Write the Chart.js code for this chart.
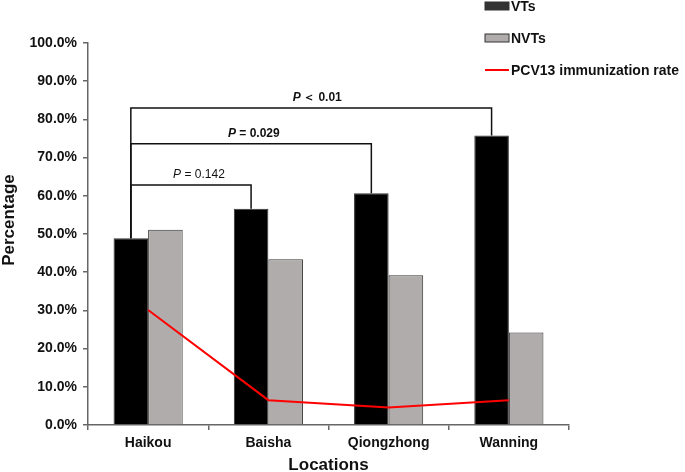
<!DOCTYPE html>
<html>
<head>
<meta charset="utf-8">
<script src="https://cdn.jsdelivr.net/npm/chart.js@4"></script>
<style>
  html, body { margin: 0; padding: 0; background: #fff; }
  #wrap { width: 685px; height: 472px; }
</style>
</head>
<body>
<div id="wrap"><canvas id="chart"></canvas></div>
<script>
const locations = ['Haikou', 'Baisha', 'Qiongzhong', 'Wanning'];
const vtValues = [48.9, 56.6, 60.7, 75.8];
const nvtValues = [51.1, 43.4, 39.2, 24.2];
const pcv13Rate = [30.1, 6.5, 4.6, 6.5];

// significance brackets: compare VT bar of Haikou with VT bar of another location
const bracketTargets = [1, 2, 3];
const bracketLevels = [62.8, 73.6, 83.0];
const bracketTexts = [' = 0.142', ' = 0.029', '\u2009＜ 0.01'];
const bracketBold = [false, true, true];

const FONT = '"Liberation Sans", Arial, sans-serif';

const bracketPlugin = {
  id: 'brackets',
  afterDatasetsDraw(chart) {
    const { ctx, chartArea } = chart;
    const y = chart.scales.y;
    const vtMeta = chart.getDatasetMeta(0);
    const x0 = vtMeta.data[0].x;
    const shifts = [8, 0, 6];
    ctx.save();
    ctx.strokeStyle = '#111';
    ctx.lineWidth = 1.5;
    bracketTargets.forEach((t, i) => {
      const x1 = vtMeta.data[t].x;
      const yl = y.getPixelForValue(bracketLevels[i]);
      ctx.beginPath();
      ctx.moveTo(x0, y.getPixelForValue(vtValues[0]));
      ctx.lineTo(x0, yl);
      ctx.lineTo(x1, yl);
      ctx.lineTo(x1, y.getPixelForValue(vtValues[t]));
      ctx.stroke();

      const weight = bracketBold[i] ? 'bold ' : '';
      ctx.font = 'italic ' + weight + '12px ' + FONT;
      const pw = ctx.measureText('P').width;
      ctx.font = weight + '12px ' + FONT;
      const rw = ctx.measureText(bracketTexts[i]).width;
      let cx = (x0 + x1) / 2 + shifts[i];
      if (i === 1) cx = x0 + 123;
      const sx = cx - (pw + rw) / 2;
      ctx.fillStyle = '#111';
      ctx.textBaseline = 'bottom';
      ctx.textAlign = 'left';
      ctx.font = 'italic ' + weight + '12px ' + FONT;
      ctx.fillText('P', sx, yl - 4);
      ctx.font = weight + '12px ' + FONT;
      ctx.fillText(bracketTexts[i], sx + pw, yl - 4);
    });

    // axis titles
    ctx.font = 'bold 17px ' + FONT;
    ctx.textAlign = 'center';
    ctx.textBaseline = 'middle';
    ctx.fillText('Locations', (chartArea.left + chartArea.right) / 2, 465);
    ctx.translate(9, 220);
    ctx.rotate(-Math.PI / 2);
    ctx.fillText('Percentage', 0, 0);
    ctx.restore();
  }
};

const legendPlugin = {
  id: 'sideLegend',
  afterDraw(chart) {
    const { ctx } = chart;
    const ds = chart.data.datasets;
    const bx = 485, tx = 511;
    const rows = [6, 38, 70];
    ctx.save();
    ctx.font = 'bold 14px ' + FONT;
    ctx.textBaseline = 'middle';
    ds.forEach((d, i) => {
      const yy = rows[i];
      if (d.type === 'line') {
        ctx.strokeStyle = d.borderColor;
        ctx.lineWidth = 2;
        ctx.beginPath();
        ctx.moveTo(bx, yy);
        ctx.lineTo(bx + 24, yy);
        ctx.stroke();
      } else {
        ctx.fillStyle = i === 0 ? '#333' : d.backgroundColor;
        ctx.fillRect(bx, yy - 4, 24, 8);
        ctx.strokeStyle = '#333';
        ctx.lineWidth = 1;
        ctx.strokeRect(bx, yy - 4, 24, 8);
      }
      ctx.fillStyle = '#111';
      ctx.fillText(d.label, tx, yy + 1);
    });
    ctx.restore();
  }
};

new Chart(document.getElementById('chart'), {
  type: 'bar',
  data: {
    labels: locations,
    datasets: [
      { label: 'VTs', data: vtValues, backgroundColor: '#000', borderColor: '#333', borderWidth: 1, order: 2 },
      { label: 'NVTs', data: nvtValues, backgroundColor: '#b0acab', borderColor: '#333', borderWidth: 1, order: 2 },
      { type: 'line', label: 'PCV13 immunization rate', data: pcv13Rate, borderColor: '#ff0000', borderWidth: 2,
        pointRadius: 0, tension: 0, fill: false, order: 1 }
    ]
  },
  options: {
    responsive: true,
    maintainAspectRatio: false,
    animation: false,
    layout: { padding: { top: 43, right: 116, left: 0, bottom: 0 } },
    datasets: { bar: { categoryPercentage: 0.575, barPercentage: 1.0 } },
    plugins: { legend: { display: false }, tooltip: { enabled: false } },
    scales: {
      x: {
        offset: true,
        grid: { display: true, offset: true, drawOnChartArea: false, tickLength: 5, color: '#666', lineWidth: 1.5 },
        border: { color: '#666', width: 1.5 },
        ticks: { color: '#111', font: { family: FONT, size: 14, weight: 'bold' }, padding: 5 },
        title: { display: false },
        afterFit(s) { s.height = 47; }
      },
      y: {
        min: 0, max: 100,
        ticks: { stepSize: 10, color: '#111', font: { family: FONT, size: 14, weight: 'bold' }, padding: 6,
          callback: v => v.toFixed(1) + '%' },
        grid: { display: true, drawOnChartArea: false, tickLength: 5, color: '#666', lineWidth: 1.5 },
        border: { color: '#666', width: 1.5 },
        title: { display: false },
        afterFit(s) { s.width = 88; }
      }
    }
  },
  plugins: [bracketPlugin, legendPlugin]
});
</script>
</body>
</html>
